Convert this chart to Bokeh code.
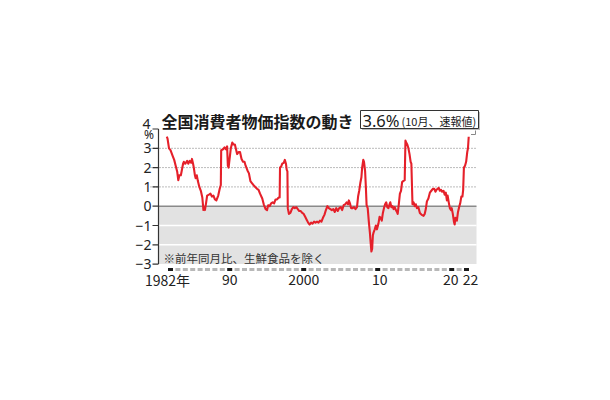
from bokeh.plotting import figure
from bokeh.models import Range1d
from bokeh.core.properties import value
from bokeh.embed import file_html
from bokeh.resources import INLINE

# ---------------- data ----------------
t = [1982.0, 1982.1, 1982.3, 1982.5, 1982.8, 1983.0, 1983.2, 1983.4, 1983.55, 1983.7,
     1983.9, 1984.0, 1984.2, 1984.3, 1984.5, 1984.75, 1984.9, 1985.1, 1985.3, 1985.4,
     1985.55, 1985.65, 1985.8, 1985.9, 1986.05, 1986.2, 1986.4, 1986.6, 1986.8, 1986.95,
     1987.05, 1987.15, 1987.3, 1987.45, 1987.7, 1987.9, 1988.1, 1988.3, 1988.5, 1988.7,
     1988.95, 1989.15, 1989.3, 1989.35, 1989.6, 1989.8, 1990.0, 1990.15, 1990.25, 1990.35,
     1990.5, 1990.65, 1990.85, 1991.0, 1991.2, 1991.35, 1991.5, 1991.7, 1991.9, 1992.1,
     1992.3, 1992.5, 1992.65, 1992.9, 1993.1, 1993.3, 1993.5, 1993.7, 1993.95, 1994.2,
     1994.4, 1994.6, 1994.9, 1995.1, 1995.35, 1995.55, 1995.7, 1995.9, 1996.1, 1996.3,
     1996.5, 1996.7, 1996.9, 1997.1, 1997.25, 1997.3, 1997.45, 1997.6, 1997.8, 1997.95,
     1998.1, 1998.2, 1998.3, 1998.35, 1998.5, 1998.7, 1998.9, 1999.1, 1999.3, 1999.5,
     1999.7, 1999.9, 2000.1, 2000.3, 2000.5, 2000.7, 2000.9, 2001.1, 2001.3, 2001.5,
     2001.7, 2001.9, 2002.1, 2002.3, 2002.5, 2002.7, 2002.9, 2003.1, 2003.3, 2003.5,
     2003.7, 2003.9, 2004.1, 2004.3, 2004.5, 2004.7, 2004.9, 2005.1, 2005.3, 2005.5,
     2005.7, 2005.9, 2006.1, 2006.3, 2006.5, 2006.6, 2006.75, 2006.9, 2007.1, 2007.3,
     2007.5, 2007.7, 2007.85, 2008.0, 2008.15, 2008.3, 2008.4, 2008.55, 2008.65, 2008.8,
     2008.9, 2009.0, 2009.15, 2009.3, 2009.45, 2009.55, 2009.65, 2009.75, 2009.85, 2009.95,
     2010.1, 2010.25, 2010.4, 2010.5, 2010.6, 2010.75, 2010.9, 2011.05, 2011.2, 2011.35,
     2011.5, 2011.65, 2011.8, 2011.95, 2012.1, 2012.2, 2012.35, 2012.5, 2012.65, 2012.8,
     2012.95, 2013.1, 2013.2, 2013.35, 2013.5, 2013.65, 2013.8, 2013.95, 2014.15, 2014.25,
     2014.35, 2014.5, 2014.65, 2014.8, 2014.95, 2015.05, 2015.2, 2015.35, 2015.5, 2015.65,
     2015.8, 2016.0, 2016.2, 2016.45, 2016.7, 2016.85, 2017.0, 2017.15, 2017.35, 2017.55,
     2017.75, 2017.95, 2018.15, 2018.3, 2018.45, 2018.6, 2018.75, 2018.9, 2019.05, 2019.2,
     2019.4, 2019.55, 2019.7, 2019.85, 2019.95, 2020.1, 2020.25, 2020.4, 2020.5, 2020.65,
     2020.8, 2020.9, 2021.0, 2021.1, 2021.2, 2021.35, 2021.5, 2021.65, 2021.8, 2021.95,
     2022.05, 2022.15, 2022.3, 2022.45, 2022.6, 2022.7, 2022.8]
cpi = [3.6, 3.5, 3.0, 2.9, 2.6, 2.4, 2.1, 1.8, 1.35, 1.6,
       1.6, 1.8, 2.2, 2.3, 2.2, 2.35, 2.2, 2.35, 2.25, 2.45,
       2.2, 2.0, 1.6, 1.45, 1.6, 1.3, 1.0, 0.8, 0.45, -0.2,
       -0.05, -0.2, 0.15, 0.55, 0.6, 0.65, 0.5, 0.55, 0.35, 0.3,
       0.55, 0.9, 1.1, 2.9, 2.95, 3.05, 2.95, 3.1, 2.1, 2.0,
       2.5, 3.0, 3.3, 3.2, 3.2, 2.95, 2.7, 2.8, 2.8, 2.45,
       2.3, 2.3, 2.1, 1.85, 1.7, 1.3, 1.2, 1.1, 1.0, 0.9,
       0.85, 0.65, 0.4, 0.1, -0.15, -0.2, 0.05, 0.0, 0.15, 0.2,
       0.15, 0.35, 0.35, 0.45, 0.45, 2.0, 2.05, 2.2, 2.25, 2.4,
       2.2, 1.9, 1.8, -0.1, -0.4, -0.35, -0.15, -0.05, -0.1, -0.05,
       -0.15, -0.25, -0.25, -0.35, -0.4, -0.55, -0.7, -0.85, -0.95, -0.85,
       -0.9, -0.8, -0.85, -0.8, -0.85, -0.75, -0.8, -0.6, -0.45, -0.2,
       0.0, -0.1, -0.15, -0.2, -0.15, -0.3, -0.1, -0.25, -0.1, -0.05,
       -0.2, 0.05, 0.1, 0.2, 0.1, 0.3, 0.15, -0.1, -0.1, -0.05,
       -0.15, -0.05, 0.5, 0.8, 1.2, 1.5, 2.0, 2.4, 2.3, 1.8,
       1.0, 0.05, -0.1, -0.8, -1.4, -1.9, -2.35, -2.2, -1.5, -1.35,
       -1.2, -1.0, -1.2, -1.05, -0.9, -0.55, -0.6, -0.75, -0.35, -0.1,
       0.1, 0.2, -0.05, -0.1, 0.1, 0.2, -0.05, 0.0, -0.15, -0.05,
       -0.2, -0.3, -0.4, 0.1, 0.65, 0.8, 1.25, 1.3, 1.35, 3.4,
       3.3, 3.2, 3.0, 2.7, 2.3, 2.2, 0.1, 0.2, 0.0, 0.1,
       -0.1, -0.05, -0.35, -0.45, -0.5, -0.4, -0.15, 0.25, 0.4, 0.7,
       0.8, 0.9, 0.9, 0.75, 0.85, 0.9, 0.95, 0.8, 0.85, 0.75,
       0.8, 0.6, 0.7, 0.3, 0.55, 0.2, -0.1, -0.2, -0.1, -0.4,
       -0.8, -0.95, -0.6, -0.7, -0.75, -0.3, -0.05, 0.15, 0.5, 0.5,
       0.85, 2.0, 2.1, 2.3, 2.8, 3.0, 3.6]

y_ticks = [-3, -2, -1, 0, 1, 2, 3, 4]
y_tick_labels = ["\u22123", "\u22122", "\u22121", "0", "1", "2", "3", "4"]
dotted_levels = [1, 2, 3]
white_levels = [-1, -2]
all_years = list(range(1982, 2023))
marked_years = [1982, 1990, 2000, 2010, 2020, 2022]
x_tick_labels = ["1982年", "90", "2000", "10", "20", "22"]
title_text = "全国消費者物価指数の動き"
latest_value = "3.6%"
latest_note = "(10月、速報値)"
note_text = "※前年同月比、生鮮食品を除く"

# ---------------- page-pixel helpers (layout) ----------------
def tx(px):
    return 1982 + (px - 166.3) / 7.4

def vy(py):
    return (205.7 - py) / 19.3

JP = value("Noto Sans CJK JP")
NUM = value("Noto Sans")

p = figure(width=594, height=384, output_backend="svg", toolbar_location=None,
           x_axis_location=None, y_axis_location=None, min_border=0,
           x_range=Range1d(tx(0), tx(594)), y_range=Range1d(vy(384), vy(0)))
p.grid.grid_line_color = None
p.outline_line_color = None
p.background_fill_color = "white"
p.border_fill_color = "white"

left, right = tx(158), tx(476)

# shaded negative band
p.quad(left=[left], right=[right], bottom=[min(y_ticks)], top=[0],
       fill_color="#e2e2e2", line_color=None)
# white lines inside band
p.segment(x0=[left] * len(white_levels), x1=[right] * len(white_levels),
          y0=white_levels, y1=white_levels, line_color="white", line_width=1.5)
# dotted gridlines
p.segment(x0=[tx(150)] * len(dotted_levels), x1=[right] * len(dotted_levels),
          y0=dotted_levels, y1=dotted_levels, line_color="#777777",
          line_width=1, line_dash="1 2")
# zero line
p.segment(x0=[left], x1=[right], y0=[0], y1=[0], line_color="#8a8a8a", line_width=1.6)

# y axis line and ticks
p.segment(x0=[left], x1=[left], y0=[min(y_ticks)], y1=[max(y_ticks)],
          line_color="#333333", line_width=1.2)
p.segment(x0=[tx(152)] * len(y_ticks), x1=[left] * len(y_ticks),
          y0=y_ticks, y1=y_ticks, line_color="#333333", line_width=1.2)

# y tick labels
p.text(x=[tx(151)] * (len(y_ticks) - 1), y=y_ticks[:-1], text=y_tick_labels[:-1],
       text_align="right", text_baseline="middle", text_font=NUM,
       text_font_size="14px", text_color="#222222")
p.text(x=[tx(150)], y=[y_ticks[-1]], text=[y_tick_labels[-1]], y_offset=-5,
       text_align="right", text_baseline="middle", text_font=NUM,
       text_font_size="14px", text_color="#222222")
p.text(x=[tx(153.5)], y=[y_ticks[-1]], text=["%"], y_offset=5,
       text_align="right", text_baseline="middle", text_font=NUM,
       text_font_size="12px", text_color="#222222")

# year dash row
dash_y = vy(269)
gray_years = [yr + 0.5 for yr in all_years if yr not in marked_years]
black_years = [yr + 0.5 for yr in marked_years]
p.rect(x=gray_years, y=[dash_y] * len(gray_years), width=5, height=3,
       width_units="screen", height_units="screen", fill_color="#b8b8b8", line_color=None)
p.rect(x=black_years, y=[dash_y] * len(black_years), width=5, height=3,
       width_units="screen", height_units="screen", fill_color="#1a1a1a", line_color=None)

# x tick labels
label_offsets = [-3, 0, 0, 2, -1, 4]
for yr, lab, off in zip(marked_years, x_tick_labels, label_offsets):
    p.text(x=[yr + 0.5], y=[vy(279)], text=[lab], x_offset=off,
           text_align="center", text_baseline="middle", text_font=JP,
           text_font_size="14px", text_color="#222222")

# note
p.text(x=[tx(163)], y=[vy(257)], text=[note_text], text_align="left",
       text_baseline="middle", text_font=JP, text_font_size="11.5px", text_color="#333333")

# CPI line
p.line(x=t, y=cpi, line_color="#e5202a", line_width=2.1, line_join="round")

# title
p.text(x=[tx(161)], y=[vy(120.5)], text=[title_text], text_align="left",
       text_baseline="middle", text_font=JP, text_font_size="16px",
       text_font_style="bold", text_color="#1a1a1a")

# callout box
p.quad(left=[tx(361.5)], right=[tx(479.5)], top=[vy(111.5)], bottom=[vy(129.5)],
       fill_color="#bdbdbd", line_color=None)
p.quad(left=[tx(360)], right=[tx(478)], top=[vy(110)], bottom=[vy(128)],
       fill_color="white", line_color="#333333", line_width=1)
p.text(x=[tx(362)], y=[vy(119.5)], text=[latest_value], text_align="left",
       text_baseline="middle", text_font=NUM, text_font_size="16.5px", text_color="#1a1a1a")
p.text(x=[tx(401)], y=[vy(120)], text=[latest_note], text_align="left",
       text_baseline="middle", text_font=JP, text_font_size="11px", text_color="#1a1a1a")
# small callout corner
p.line(x=[tx(470.5), tx(475), tx(475)], y=[vy(134), vy(134), vy(130)],
       line_color="#888888", line_width=1)

open("out.html", "w").write(file_html(p, INLINE))
